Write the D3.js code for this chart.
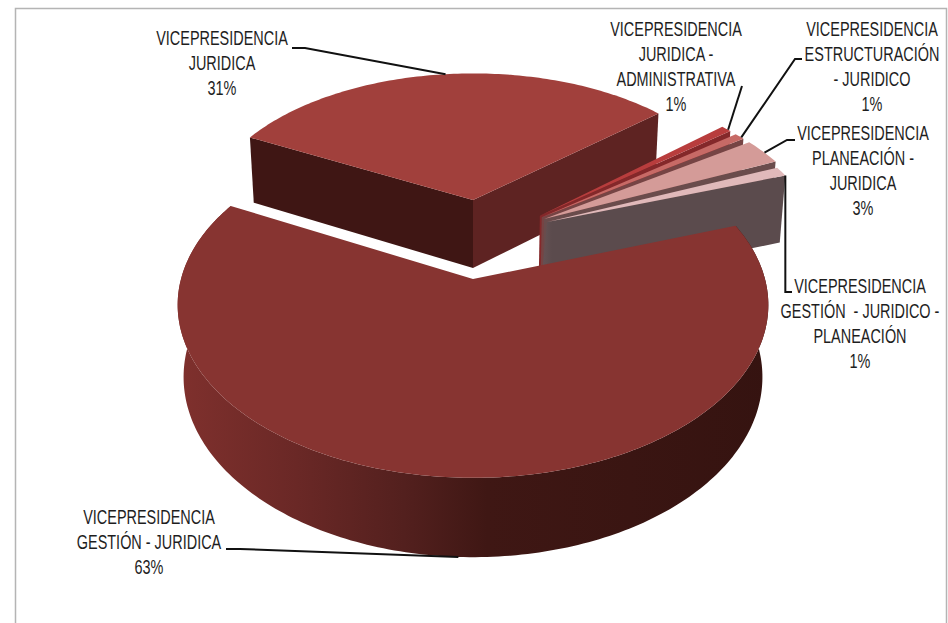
<!DOCTYPE html>
<html>
<head>
<meta charset="utf-8">
<script src="https://cdn.jsdelivr.net/npm/d3@7"></script>
<style>
  html, body { margin: 0; padding: 0; background: #fff; }
  svg { display: block; }
  text { font-family: "Liberation Sans", Arial, sans-serif; font-size: 20.5px; fill: #1e1e1e; text-anchor: middle; }
</style>
</head>
<body>
<svg id="chart" width="948" height="623"></svg>
<script>
// Share of cases per vice-presidency, in pie order (clockwise)
const categories = [
  ["VICEPRESIDENCIA", "GESTIÓN - JURIDICA"],
  ["VICEPRESIDENCIA", "JURIDICA"],
  ["VICEPRESIDENCIA", "JURIDICA -", "ADMINISTRATIVA"],
  ["VICEPRESIDENCIA", "ESTRUCTURACIÓN", "- JURIDICO"],
  ["VICEPRESIDENCIA", "PLANEACIÓN -", "JURIDICA"],
  ["VICEPRESIDENCIA", "GESTIÓN  - JURIDICO -", "PLANEACIÓN"]
];
const values = [63, 31, 1, 1, 3, 1];

// Per-slice styling, same order as the values
const topColors  = ["#873431", "#a1403c", "#b83d3d", "#c76a66", "#d49b98", "#e0b9ba"];
const wallColors = ["#5a2220", "#5e2322", "#84282a", "#764444", "#6a4c4c", "url(#greyWall)"];
const innerWall  = "#3f1614";
const explode = [[0, 0], [0, -0.503], [0.2426, -0.3966], [0.2490, -0.3866], [0.2570, -0.3750], [0.2670, -0.3550]];
const radius  = [1, 0.985, 0.985, 0.985, 0.985, 0.965];
const gapDeg  = [0, 0, 1.1, 1.1, 1.1, 0];

// Label centres and leader elbows
const labelX = [149, 222, 676, 872, 863, 860];
const labelY = [517, 38, 29, 29, 133, 286];
const lineGap = 25;
const labelStretch = 0.705;
const leaderStart = [[226, 549], [292, 48], [742, 86], [802, 59], [795, 140], [792, 292]];
const leaderElbow = [[240, 549], [305, 48], [742, 86], [795, 59], [787, 140], [783, 292]];
const leaderAngle = [182.5, null, null, null, null, null];

// Perspective: tilted disc seen from above, with a vanishing depth
const perspective = 0.15, depthUnits = 73 / 169, depthShrink = 0.02;
const xScale = d3.scaleLinear().domain([-1, 1]).range([473 - 292, 473 + 292]);
const yScale = d3.scaleLinear().domain([-1, 1]).range([279 - 169, 279 + 169]);

function project(i, theta, r, z) {
  const X = explode[i][0] + r * Math.sin(theta);
  const Y = explode[i][1] - r * Math.cos(theta);
  const w = 1 - perspective * Y + depthShrink * z;
  return [xScale(X / w), yScale((Y + depthUnits * z) / w)];
}

const svg = d3.select("#chart");
const line = d3.line();
const rad = d => d * Math.PI / 180;

const defs = svg.append("defs");
const mainGrad = defs.append("linearGradient").attr("id", "mainWall")
  .attr("gradientUnits", "userSpaceOnUse").attr("x1", 179).attr("x2", 771).attr("y1", 0).attr("y2", 0);
[[0, "#7f302d"], [0.2, "#6a2826"], [0.38, "#53201e"], [0.52, "#3f1714"], [1, "#351310"]]
  .forEach(([o, c]) => mainGrad.append("stop").attr("offset", o).attr("stop-color", c));
const greyGrad = defs.append("linearGradient").attr("id", "greyWall")
  .attr("gradientUnits", "userSpaceOnUse").attr("x1", 534).attr("x2", 552).attr("y1", 0).attr("y2", 0);
[[0, "#70585b"], [1, "#5b4b4d"]]
  .forEach(([o, c]) => greyGrad.append("stop").attr("offset", o).attr("stop-color", c));

// Chart frame, open at the page bottom
svg.append("path").attr("d", "M15.5,625V8.5H946.5V625")
  .attr("fill", "none").attr("stroke", "#b4b4b4").attr("stroke-width", 1.5);

const pie = d3.pie().sort(null).startAngle(rad(70.7)).endAngle(rad(430.7));
const arcs = pie(values);

function arcAngles(a0, a1) {
  const n = Math.max(2, Math.ceil((a1 - a0) / rad(1)));
  return d3.range(n + 1).map(k => a0 + (a1 - a0) * k / n);
}

function drawSlice(i) {
  const d = arcs[i];
  const a0 = d.startAngle, a1 = d.endAngle - rad(gapDeg[i]);
  const r = radius[i];
  const g = svg.append("g");
  const apexTop = project(i, 0, 0, 0), apexBottom = project(i, 0, 0, 1);

  if (i === 0) {
    // Outer rim of the big slice, seen at the front
    const pts = arcAngles(a0, a1);
    const rim = pts.map(t => project(i, t, r, 0)).concat(pts.slice().reverse().map(t => project(i, t, r, 1)));
    g.append("path").attr("d", line(rim) + "Z").attr("fill", "url(#mainWall)");
  } else if (i === 1) {
    // Two cut faces meeting at the exploded apex
    g.append("path")
      .attr("d", line([project(i, a0, r, 0), apexTop, apexBottom, project(i, a0, r, 1)]) + "Z")
      .attr("fill", innerWall);
    g.append("path")
      .attr("d", line([project(i, a1, r, 0), apexTop, apexBottom, project(i, a1, r, 1)]) + "Z")
      .attr("fill", wallColors[i]);
  } else {
    // The last wall leans outward at its foot, closing the fan of thin slices
    const foot = i === 5 ? [apexBottom[0] - 5, apexBottom[1]] : apexBottom;
    g.append("path")
      .attr("d", line([project(i, a1, r, 0), apexTop, foot, project(i, a1, r, 1)]) + "Z")
      .attr("fill", wallColors[i]);
  }

  const face = [apexTop].concat(arcAngles(a0, a1).map(t => project(i, t, r, 0)));
  g.append("path").attr("d", line(face) + "Z").attr("fill", topColors[i]);
}

// Back slices first, the big front slice last
[1, 2, 3, 4, 5, 0].forEach(drawSlice);

// Leaders: from the label elbow to the slice rim
const leaderEnd = arcs.map((d, i) => {
  const mid = (d.startAngle + d.endAngle) / 2;
  const target = leaderAngle[i] !== null ? rad(leaderAngle[i]) : (i === 5 ? d.endAngle : mid);
  return project(i, target, radius[i], i === 0 ? 1 : 0);
});
arcs.forEach((d, i) => {
  const elbow = i === 5 ? [leaderEnd[i][0], leaderElbow[i][1]] : leaderElbow[i];
  svg.append("path")
    .attr("d", line([leaderStart[i], elbow, leaderEnd[i]]))
    .attr("fill", "none").attr("stroke", "#111").attr("stroke-width", 2);
});

// Data labels, one centred block per slice, set in a condensed width
categories.forEach((lines, i) => {
  const block = lines.concat([values[i] + "%"]);
  const t = svg.append("text")
    .attr("transform", `translate(${labelX[i]},${labelY[i]}) scale(${labelStretch},1)`);
  block.forEach((s, k) => {
    t.append("tspan").attr("x", 0).attr("y", k * lineGap)
      .attr("dy", "0.35em").attr("xml:space", "preserve").text(s);
  });
});
</script>
</body>
</html>
